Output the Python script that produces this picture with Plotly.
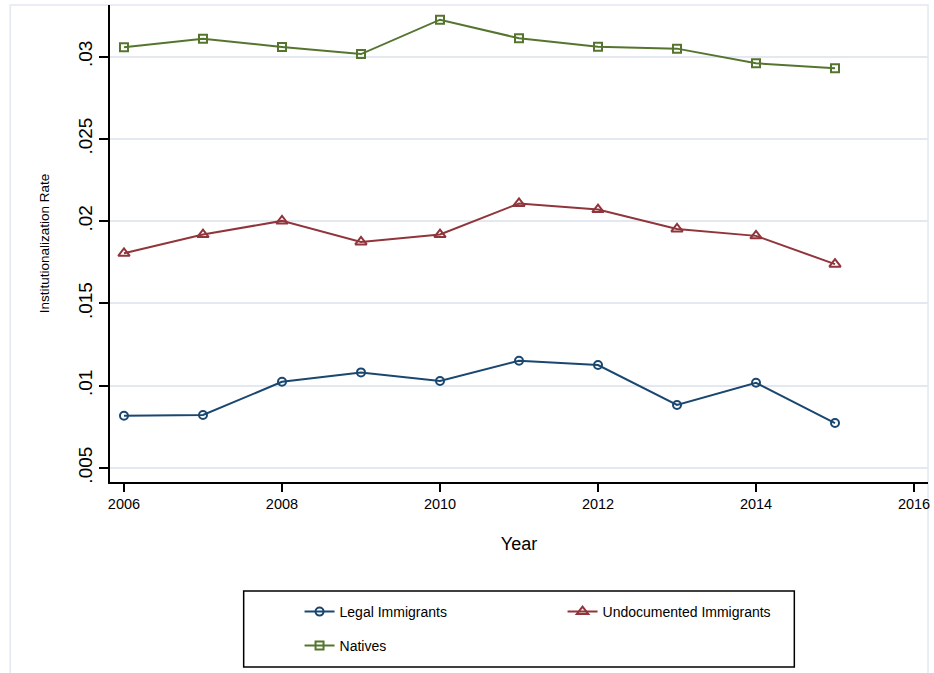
import plotly.graph_objects as go

years = [2006, 2007, 2008, 2009, 2010, 2011, 2012, 2013, 2014, 2015]
legal = [0.00818, 0.00822, 0.01024, 0.01081, 0.01029, 0.01152, 0.01126, 0.00883, 0.01018, 0.00773]
undocumented = [0.01805, 0.01919, 0.02002, 0.01874, 0.01919, 0.02108, 0.02071, 0.01953, 0.01911, 0.01739]
natives = [0.03057, 0.03109, 0.03059, 0.03016, 0.03225, 0.03112, 0.03061, 0.03049, 0.02960, 0.02930]

x_ticks = [2006, 2008, 2010, 2012, 2014, 2016]
y_ticks = [0.005, 0.01, 0.015, 0.02, 0.025, 0.03]
y_ticktext = [".005", ".01", ".015", ".02", ".025", ".03"]

NAVY = "#1a476f"
MAROON = "#90353b"
GREEN = "#55752f"
GRID = "#e4e8f0"
FONT = "Liberation Sans, Arial, sans-serif"

fig = go.Figure()
fig.add_trace(go.Scatter(
    x=years, y=legal, mode="lines+markers", name="Legal Immigrants",
    line=dict(color=NAVY, width=2),
    marker=dict(symbol="circle-open", size=8, color=NAVY, line=dict(width=2, color=NAVY)),
    legend="legend",
))
fig.add_trace(go.Scatter(
    x=years, y=undocumented, mode="lines+markers", name="Undocumented Immigrants",
    line=dict(color=MAROON, width=2),
    marker=dict(symbol="triangle-up-open", size=10, color=MAROON, line=dict(width=2, color=MAROON)),
    legend="legend",
))
fig.add_trace(go.Scatter(
    x=years, y=natives, mode="lines+markers", name="Natives",
    line=dict(color=GREEN, width=2),
    marker=dict(symbol="square-open", size=8, color=GREEN, line=dict(width=2, color=GREEN)),
    legend="legend2",
))

# layout geometry (pixels): plot area x 110..930, y 5..482
L, R, T, B = 110, 930, 5, 482
W, H = R - L, B - T
def px_x(p):
    return (p - L) / W
def px_y(p):
    return (B - p) / H

fig.update_layout(
    width=934, height=673,
    margin=dict(l=L, r=934 - R, t=T, b=673 - B),
    paper_bgcolor="white", plot_bgcolor="white",
    font=dict(family=FONT, color="#000000"),
    xaxis=dict(
        range=[2005.823, 2016.177],
        tickvals=x_ticks, ticktext=[str(v) for v in x_ticks],
        ticks="outside", ticklen=8, tickwidth=1.5, tickcolor="#000000",
        showline=True, linecolor="#000000", linewidth=1.5,
        showgrid=False, zeroline=False,
        tickfont=dict(size=14.5, family=FONT, color="#000000"),
        title=dict(text="Year", font=dict(size=18, family=FONT, color="#000000"), standoff=26),
    ),
    yaxis=dict(
        range=[0.004149, 0.033142],
        tickvals=y_ticks, ticktext=y_ticktext, tickangle=-90,
        ticks="outside", ticklen=9, tickwidth=1.5, tickcolor="#000000",
        showline=True, linecolor="#000000", linewidth=1.5,
        showgrid=True, gridcolor=GRID, gridwidth=2, zeroline=False,
        tickfont=dict(size=19, family=FONT, color="#000000"),
        title=dict(text="Institutionalization Rate", font=dict(size=13.5, family=FONT, color="#000000"), standoff=22),
    ),
    legend=dict(
        orientation="h", x=px_x(300), y=px_y(612), xanchor="left", yanchor="middle",
        entrywidth=218, font=dict(size=14, family=FONT, color="#000000"),
        bgcolor="rgba(0,0,0,0)", borderwidth=0,
    ),
    legend2=dict(
        orientation="h", x=px_x(300), y=px_y(646), xanchor="left", yanchor="middle",
        font=dict(size=14, family=FONT, color="#000000"),
        bgcolor="rgba(0,0,0,0)", borderwidth=0,
    ),
    shapes=[
        # outer light frame of the graph region
        dict(type="rect", xref="paper", yref="paper",
             x0=px_x(10), x1=px_x(930), y0=px_y(700), y1=px_y(5),
             line=dict(color=GRID, width=1.5), layer="below"),
        # legend box
        dict(type="rect", xref="paper", yref="paper",
             x0=px_x(244), x1=px_x(796), y0=px_y(667), y1=px_y(591),
             line=dict(color="#000000", width=1.5)),
    ],
)

fig.write_html("out.html")
